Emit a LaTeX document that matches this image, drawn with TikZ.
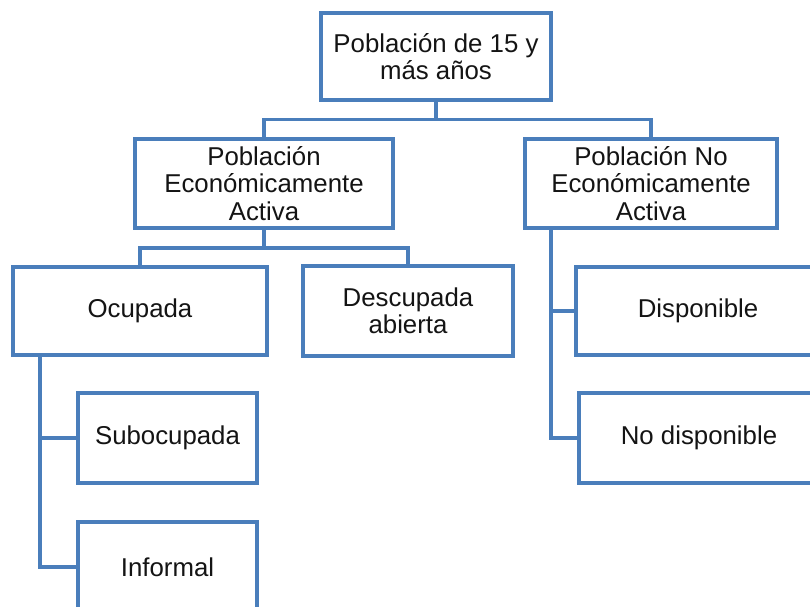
\documentclass[tikz,border=0pt]{standalone}
\usepackage{fontspec}
\setmainfont{Liberation Sans}
\definecolor{boxblue}{HTML}{4A7EBB}
\definecolor{txt}{HTML}{141414}
\begin{document}
\begin{tikzpicture}[x=1pt,y=-1pt,
  box/.style={draw=boxblue,line width=3.6pt,fill=white,inner sep=0pt,align=center,
    text=txt,font=\fontsize{25.8}{27.5}\selectfont},
  conn/.style={draw=boxblue,line width=3.6pt}]
\useasboundingbox (0,0) rectangle (810,606);
\clip (0,0) rectangle (810,606);
% nodes
\node[box,minimum width=230pt,minimum height=87pt] (top) at (436,56.5) {Población de 15 y\\más años};
\node[box,minimum width=258pt,minimum height=89pt] (pea) at (264,183.5) {Población\\Económicamente\\Activa};
\node[box,minimum width=252pt,minimum height=89pt] (pnea) at (651,183.5) {Población No\\Económicamente\\Activa};
\node[box,minimum width=254pt,minimum height=88pt] (ocu) at (140,311) {Ocupada};
\node[box,minimum width=210pt,minimum height=90pt] (des) at (408,311) {Descupada\\abierta};
\node[box,minimum width=179pt,minimum height=90pt] (sub) at (167.5,438) {Subocupada};
\node[box,minimum width=179pt,minimum height=90pt] (inf) at (167.5,567) {Informal};
\node[box,minimum width=244pt,minimum height=88pt] (disp) at (698,311) {Disponible};
\node[box,minimum width=240pt,minimum height=90pt] (nodisp) at (699,438) {No disponible};
% bus coordinates
\coordinate (b1) at (436,119.5);
\coordinate (b2) at (264,248);
\coordinate (v1) at (40,355);
\coordinate (v2) at (551,228);
% connectors
\draw[conn] (top.south) -- (b1);
\draw[conn] (pea.north) |- (b1) -| (pnea.north);
\draw[conn] (pea.south) -- (b2);
\draw[conn] (ocu.north) |- (b2) -| (des.north);
\draw[conn] (v1) |- (sub.west);
\draw[conn] (v1) |- (inf.west);
\draw[conn] (v2) |- (disp.west);
\draw[conn] (v2) |- (nodisp.west);
\end{tikzpicture}
\end{document}
